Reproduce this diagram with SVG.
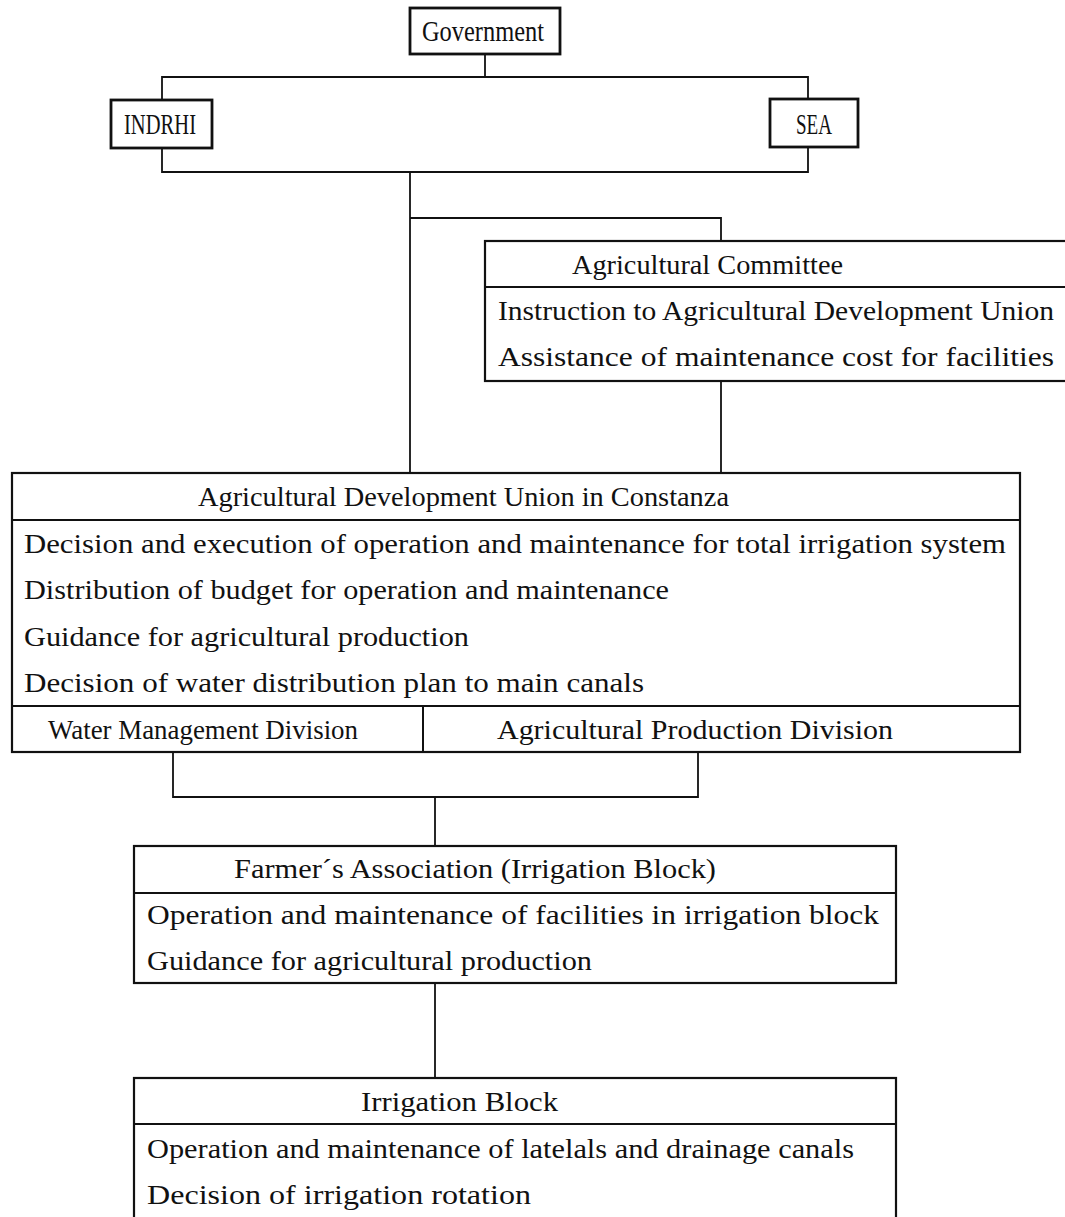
<svg xmlns="http://www.w3.org/2000/svg" width="1065" height="1217" viewBox="0 0 1065 1217">
<style>
.bx{fill:none;stroke:#111;stroke-width:2.2}
.sb{fill:none;stroke:#111;stroke-width:2.8}
.dv{stroke:#111;stroke-width:2}
.cn{fill:none;stroke:#111;stroke-width:1.8}
text{font-family:"Liberation Serif","Times New Roman",serif;font-size:27px;fill:#111}
.big{font-size:29px}
</style>
<rect width="1065" height="1217" fill="#fff"/>
<g id="connectors">
<polyline class="cn" points="485,54 485,77"/>
<polyline class="cn" points="162,100 162,77 808,77 808,99"/>
<polyline class="cn" points="162,148 162,172 808,172 808,147"/>
<polyline class="cn" points="410,172 410,473"/>
<polyline class="cn" points="410,218 721,218 721,241"/>
<polyline class="cn" points="721,381 721,473"/>
<polyline class="cn" points="173,752 173,797 698,797 698,752"/>
<polyline class="cn" points="435,797 435,846"/>
<polyline class="cn" points="435,983 435,1078"/>
</g>
<g id="government">
<rect class="sb" x="410" y="8" width="150" height="46"/>
<text class="big" x="422" y="41" textLength="122" lengthAdjust="spacingAndGlyphs">Government</text>
</g>
<g id="indrhi">
<rect class="sb" x="111" y="100" width="101" height="48"/>
<text class="big" x="124" y="134" textLength="72" lengthAdjust="spacingAndGlyphs">INDRHI</text>
</g>
<g id="sea">
<rect class="sb" x="770" y="99" width="88" height="48"/>
<text class="big" x="796" y="134" textLength="36" lengthAdjust="spacingAndGlyphs">SEA</text>
</g>
<g id="agricultural-committee">
<rect class="bx" x="485" y="241" width="600" height="140"/>
<line class="dv" x1="485" y1="287" x2="1065" y2="287"/>
<text x="572" y="274" textLength="271" lengthAdjust="spacingAndGlyphs">Agricultural Committee</text>
<text x="498" y="320" textLength="556" lengthAdjust="spacingAndGlyphs">Instruction to Agricultural Development Union</text>
<text x="498" y="366" textLength="556" lengthAdjust="spacingAndGlyphs">Assistance of maintenance cost for facilities</text>
</g>
<g id="development-union">
<rect class="bx" x="12" y="473" width="1008" height="279"/>
<line class="dv" x1="12" y1="520" x2="1020" y2="520"/>
<line class="dv" x1="12" y1="706" x2="1020" y2="706"/>
<line class="dv" x1="423" y1="706" x2="423" y2="752"/>
<text x="198" y="506" textLength="531" lengthAdjust="spacingAndGlyphs">Agricultural Development Union in Constanza</text>
<text x="24" y="553" textLength="982" lengthAdjust="spacingAndGlyphs">Decision and execution of operation and maintenance for total irrigation system</text>
<text x="24" y="599" textLength="645" lengthAdjust="spacingAndGlyphs">Distribution of budget for operation and maintenance</text>
<text x="24" y="646" textLength="445" lengthAdjust="spacingAndGlyphs">Guidance for agricultural production</text>
<text x="24" y="692" textLength="620" lengthAdjust="spacingAndGlyphs">Decision of water distribution plan to main canals</text>
<text x="48" y="739" textLength="310" lengthAdjust="spacingAndGlyphs">Water Management Division</text>
<text x="497" y="739" textLength="396" lengthAdjust="spacingAndGlyphs">Agricultural Production Division</text>
</g>
<g id="farmers-association">
<rect class="bx" x="134" y="846" width="762" height="137"/>
<line class="dv" x1="134" y1="893" x2="896" y2="893"/>
<text x="234" y="878" textLength="482" lengthAdjust="spacingAndGlyphs">Farmer´s Association (Irrigation Block)</text>
<text x="147" y="924" textLength="732" lengthAdjust="spacingAndGlyphs">Operation and maintenance of facilities in irrigation block</text>
<text x="147" y="970" textLength="445" lengthAdjust="spacingAndGlyphs">Guidance for agricultural production</text>
</g>
<g id="irrigation-block">
<rect class="bx" x="134" y="1078" width="762" height="160"/>
<line class="dv" x1="134" y1="1124" x2="896" y2="1124"/>
<text x="361" y="1111" textLength="197" lengthAdjust="spacingAndGlyphs">Irrigation Block</text>
<text x="147" y="1158" textLength="707" lengthAdjust="spacingAndGlyphs">Operation and maintenance of latelals and drainage canals</text>
<text x="147" y="1204" textLength="384" lengthAdjust="spacingAndGlyphs">Decision of irrigation rotation</text>
</g>
</svg>
